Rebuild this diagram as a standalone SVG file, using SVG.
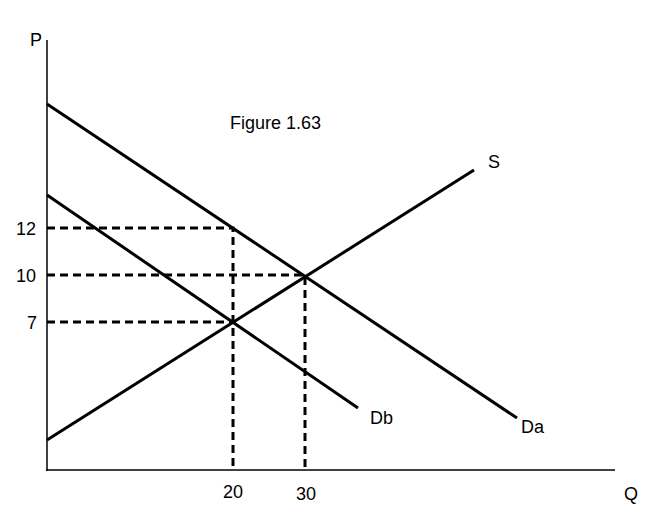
<svg xmlns="http://www.w3.org/2000/svg" width="656" height="530" viewBox="0 0 656 530">
<style>
text{font-family:"Liberation Sans",Arial,sans-serif;font-size:18px;fill:#000}
.l{stroke:#000;stroke-width:3;fill:none}
.a{stroke:#000;stroke-width:1.5;fill:none}
.d{stroke:#000;stroke-width:3;stroke-dasharray:8,5;fill:none}
</style>
<rect width="656" height="530" fill="#fff"/>
<g id="axes">
<line class="a" x1="47" y1="40" x2="47" y2="471"/>
<line class="a" x1="46" y1="470" x2="615" y2="470"/>
<text x="30" y="46">P</text>
<text x="624" y="500">Q</text>
</g>
<g id="connectors">
<line class="l" x1="47" y1="104" x2="517" y2="418"/>
<line class="l" x1="47" y1="195" x2="358" y2="408"/>
<line class="l" x1="47" y1="440" x2="474" y2="170"/>
<path class="d" d="M47 228H233V470"/>
<path class="d" d="M47 275H305V470"/>
<path class="d" d="M47 322H233"/>
</g>
<g id="labels">
<text x="230" y="129">Figure 1.63</text>
<text x="488" y="168">S</text>
<text x="370" y="424">Db</text>
<text x="521" y="433">Da</text>
<text x="16" y="235">12</text>
<text x="16" y="282">10</text>
<text x="27" y="329">7</text>
<text x="223" y="498">20</text>
<text x="296" y="500">30</text>
</g>
</svg>
